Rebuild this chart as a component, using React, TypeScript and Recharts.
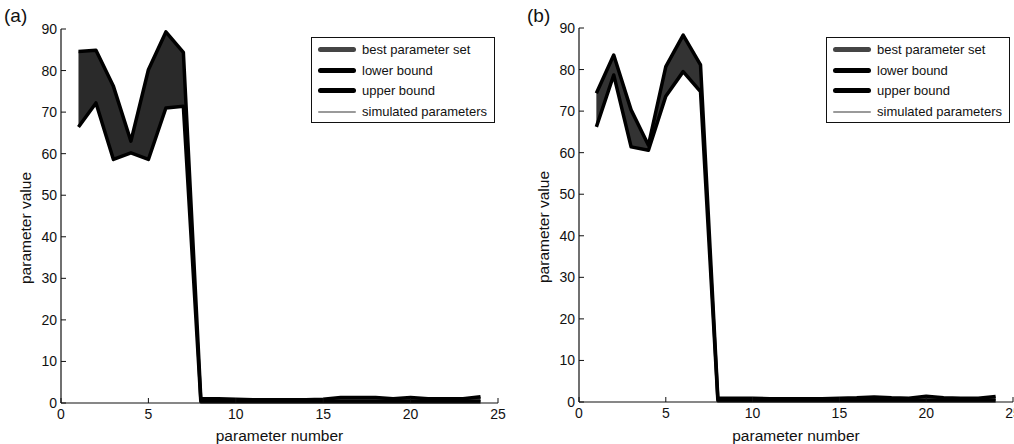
import React from 'react';
import { ComposedChart, Area, Line, XAxis, YAxis, Label } from 'recharts';

const params = [1, 2, 3, 4, 5, 6, 7, 8, 9, 10, 11, 12, 13, 14, 15, 16, 17, 18, 19, 20, 21, 22, 23, 24];
const aUpper = [84.6, 84.9, 76.2, 63.0, 80.2, 89.3, 84.4, 1.0, 1.0, 0.9, 0.8, 0.8, 0.8, 0.8, 0.9, 1.3, 1.3, 1.3, 1.0, 1.3, 1.0, 1.0, 1.0, 1.5];
const aLower = [66.4, 72.2, 58.6, 60.2, 58.6, 71.0, 71.4, 0.3, 0.3, 0.3, 0.3, 0.3, 0.3, 0.3, 0.3, 0.3, 0.3, 0.3, 0.3, 0.3, 0.3, 0.3, 0.3, 0.3];
const bUpper = [74.3, 83.5, 70.3, 61.8, 80.7, 88.3, 81.1, 0.9, 0.9, 0.9, 0.8, 0.8, 0.8, 0.8, 0.9, 1.0, 1.2, 1.0, 0.9, 1.4, 1.0, 0.9, 0.9, 1.3];
const bLower = [66.2, 78.7, 61.4, 60.6, 73.6, 79.5, 74.7, 0.3, 0.3, 0.3, 0.3, 0.3, 0.3, 0.3, 0.3, 0.3, 0.3, 0.3, 0.3, 0.3, 0.3, 0.3, 0.3, 0.3];
const xTicks = [0, 5, 10, 15, 20, 25];
const yTicks = [0, 10, 20, 30, 40, 50, 60, 70, 80, 90];
const legendItems = [
  { name: 'best parameter set', color: '#454545', width: 5 },
  { name: 'lower bound', color: '#000', width: 5 },
  { name: 'upper bound', color: '#000', width: 5 },
  { name: 'simulated parameters', color: '#9a9a9a', width: 2 },
];

const FONT = '"Liberation Sans", Arial, Helvetica, sans-serif';

function buildData(upper: number[], lower: number[]) {
  return params.map((p, i) => ({ p, band: [lower[i], upper[i]], upper: upper[i], lower: lower[i] }));
}

const LegendBox = ({ left, top }: any) => (
  <div
    style={{
      position: 'absolute',
      left,
      top,
      border: '1.5px solid #111',
      background: '#fff',
      width: 184,
      height: 86,
      boxSizing: 'border-box',
      padding: '1px 0 0 6px',
      fontFamily: FONT,
      fontSize: 13,
      color: '#111',
    }}
  >
    {legendItems.map((it) => (
      <div key={it.name} style={{ display: 'flex', alignItems: 'center', height: 20.8 }}>
        <div
          style={{
            width: 38,
            height: it.width,
            background: it.color,
            borderRadius: 3,
            marginRight: 6,
          }}
        />
        <span>{it.name}</span>
      </div>
    ))}
  </div>
);

function Panel({ upper, lower, width, marginRight, top, bottomPlot, fill }: any) {
  const data = buildData(upper, lower);
  const tickStyle = { fontSize: 14, fill: '#111', fontFamily: FONT };
  return (
    <ComposedChart
      width={width}
      height={444}
      data={data}
      margin={{ top: top, right: marginRight, left: 0, bottom: 0 }}
    >
      <XAxis
        xAxisId="b"
        dataKey="p"
        type="number"
        domain={[0, 25]}
        ticks={xTicks}
        allowDataOverflow
        height={444 - bottomPlot}
        tickSize={-5}
        tickMargin={11}
        tick={tickStyle}
        axisLine={{ stroke: '#111', strokeWidth: 1.2 }}
        tickLine={{ stroke: '#111' }}
        interval={0}
      >
        <Label
          value="parameter number"
          position="insideBottom"
          offset={3}
          style={{ fontSize: 15.5, fill: '#111', fontFamily: FONT }}
        />
      </XAxis>
      <XAxis
        xAxisId="t"
        orientation="top"
        type="number"
        dataKey="p"
        domain={[0, 25]}
        ticks={xTicks}
        height={0}
        tickSize={-5}
        tickFormatter={() => ''}
        axisLine={{ stroke: '#111', strokeWidth: 1.2 }}
        tickLine={{ stroke: '#111' }}
        interval={0}
      />
      <YAxis
        yAxisId="l"
        type="number"
        domain={[0, 90]}
        ticks={yTicks}
        width={61}
        tickSize={-5}
        tickMargin={9}
        tick={tickStyle}
        axisLine={{ stroke: '#111', strokeWidth: 1.2 }}
        tickLine={{ stroke: '#111' }}
        interval={0}
      >
        <Label
          content={({ viewBox }: any) => {
            const cx = viewBox.x + 25;
            const cy = viewBox.y + viewBox.height / 2 + 12;
            return (
              <text
                x={cx}
                y={cy}
                transform={`rotate(-90, ${cx}, ${cy})`}
                textAnchor="middle"
                dominantBaseline="central"
                style={{ fontSize: 15.5, fill: '#111', fontFamily: FONT }}
              >
                parameter value
              </text>
            );
          }}
        />
      </YAxis>
      <YAxis
        yAxisId="r"
        orientation="right"
        type="number"
        domain={[0, 90]}
        ticks={yTicks}
        width={0}
        tickSize={-5}
        tickFormatter={() => ''}
        axisLine={{ stroke: '#111', strokeWidth: 1.2 }}
        tickLine={{ stroke: '#111' }}
        interval={0}
      />
      <Area
        xAxisId="b"
        yAxisId="l"
        dataKey="band"
        type="linear"
        stroke="none"
        fill={fill}
        fillOpacity={1}
        isAnimationActive={false}
      />
      <Line
        xAxisId="b"
        yAxisId="l"
        dataKey="lower"
        type="linear"
        stroke="#000"
        strokeWidth={3.5}
        strokeLinejoin="round"
        dot={false}
        isAnimationActive={false}
      />
      <Line
        xAxisId="b"
        yAxisId="l"
        dataKey="upper"
        type="linear"
        stroke="#000"
        strokeWidth={3.5}
        strokeLinejoin="round"
        dot={false}
        isAnimationActive={false}
      />
    </ComposedChart>
  );
}

export default function App() {
  return (
    <div style={{ position: 'absolute', left: 0, top: 0, width: 1014, height: 444, background: '#fff', overflow: 'hidden' }}>
      <div style={{ position: 'absolute', left: 0, top: 0 }}>
        <Panel upper={aUpper} lower={aLower} width={507} marginRight={9} top={29} bottomPlot={403} fill="#2a2a2a" />
      </div>
      <div style={{ position: 'absolute', left: 518, top: 0 }}>
        <Panel upper={bUpper} lower={bLower} width={496} marginRight={1} top={28} bottomPlot={402} fill="#333333" />
      </div>
      <LegendBox left={311} top={37} />
      <LegendBox left={826} top={37} />
      <div style={{ position: 'absolute', left: 4, top: 5, fontFamily: FONT, fontSize: 19, color: '#111' }}>(a)</div>
      <div style={{ position: 'absolute', left: 527, top: 5, fontFamily: FONT, fontSize: 19, color: '#111' }}>(b)</div>
    </div>
  );
}
